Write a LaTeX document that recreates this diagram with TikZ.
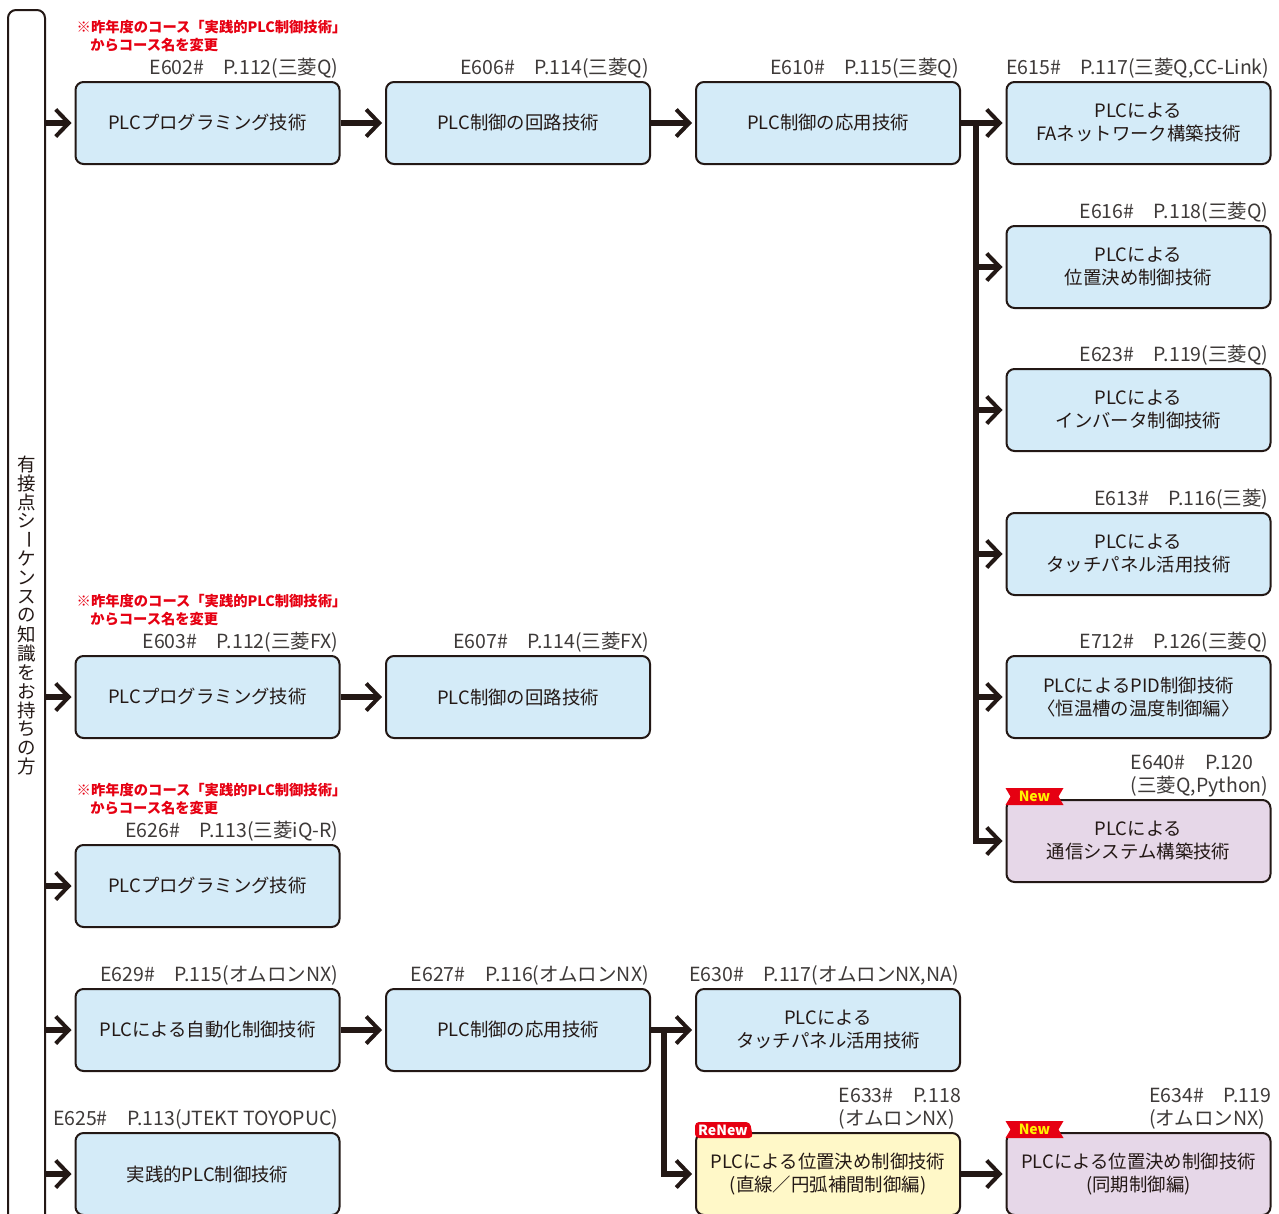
\documentclass[tikz,border=0pt]{standalone}
\usepackage{fontspec}
\setmainfont{Noto Sans CJK JP}
\usetikzlibrary{arrows.meta}

\definecolor{ink}{HTML}{231815}
\definecolor{grayink}{HTML}{3E3A39}
\definecolor{boxblue}{HTML}{D4EBF8}
\definecolor{boxpurple}{HTML}{E6D7E8}
\definecolor{boxyellow}{HTML}{FFF8C8}
\definecolor{notered}{HTML}{E60012}
\definecolor{tagyellow}{HTML}{FFF100}

\begin{document}
\begin{tikzpicture}[x=1pt, y=-1pt,
	course/.style={draw=ink, line width=2pt, rounded corners=8pt, fill=boxblue, minimum width=264pt, minimum height=82pt, align=center, inner sep=0pt, text=ink, font=\fontsize{18.4}{23}\selectfont},
	newcourse/.style={course, fill=boxpurple},
	renewcourse/.style={course, fill=boxyellow},
	coursecode/.style={anchor=south east, inner sep=0pt, align=left, text=grayink, font=\fontsize{19.5}{23}\selectfont},
	remark/.style={anchor=north west, inner sep=0pt, align=left, text=notered, font=\bfseries\fontsize{14.3}{18}\selectfont},
	arr/.style={draw=ink, line width=6pt, shorten >=3pt, -{Straight Barb[length=13pt, width=27pt, line width=4pt]}},
	ribbon/.style={fill=notered},
	tagtext/.style={inner sep=0pt, font=\bfseries\fontsize{14}{14}\selectfont}]
	\useasboundingbox (0,0) rectangle (1279,1213);
	% left bar
	\node[draw=ink, line width=2pt, rounded corners=8pt, minimum width=37pt, minimum height=1220pt, inner sep=0pt] (target) at (26.5,620) {};
	\foreach \c/\r [count=\i] in {有/0,接/0,点/0,シ/0,ー/-90,ケ/0,ン/0,ス/0,の/0,知/0,識/0,を/0,お/0,持/0,ち/0,の/0,方/0}{
	  \node[inner sep=0pt, text=ink, rotate=\r, font=\fontsize{18.5}{18}\selectfont] (t\i) at (26.5, 445.5+\i*18.9) {\c};
	}
	% Mitsubishi Q
	\node[course] (e602) at (207.5,123) {PLCプログラミング技術};
	\node[course] (e606) at (518,123) {PLC制御の回路技術};
	\node[course] (e610) at (828,123) {PLC制御の応用技術};
	\node[course] (e615) at (1138.5,123) {PLCによる\\FAネットワーク構築技術};
	\node[course] (e616) at (1138.5,267) {PLCによる\\位置決め制御技術};
	\node[course] (e623) at (1138.5,410) {PLCによる\\インバータ制御技術};
	\node[course] (e613) at (1138.5,554) {PLCによる\\タッチパネル活用技術};
	\node[course] (e712) at (1138.5,697) {PLCによるPID制御技術\\〈恒温槽の温度制御編〉};
	\node[newcourse] (e640) at (1138.5,841) {PLCによる\\通信システム構築技術};
	% Mitsubishi FX, iQ-R
	\node[course] (e603) at (207.5,697) {PLCプログラミング技術};
	\node[course] (e607) at (518,697) {PLC制御の回路技術};
	\node[course] (e626) at (207.5,886) {PLCプログラミング技術};
	% Omron, JTEKT
	\node[course] (e629) at (207.5,1030) {PLCによる自動化制御技術};
	\node[course] (e627) at (518,1030) {PLC制御の応用技術};
	\node[course] (e630) at (828,1030) {PLCによる\\タッチパネル活用技術};
	\node[course] (e625) at (207.5,1174) {実践的PLC制御技術};
	\node[renewcourse] (e633) at (828,1174) {PLCによる位置決め制御技術\\(直線／円弧補間制御編)};
	\node[newcourse] (e634) at (1138.5,1174) {PLCによる位置決め制御技術\\(同期制御編)};
	% course codes
	\node[coursecode] (e602code) at ([shift={(-2,-2)}]e602.north east) {E602\#　P.112(三菱Q)};
	\node[coursecode] (e606code) at ([shift={(-2,-2)}]e606.north east) {E606\#　P.114(三菱Q)};
	\node[coursecode] (e610code) at ([shift={(-2,-2)}]e610.north east) {E610\#　P.115(三菱Q)};
	\node[coursecode] (e615code) at ([shift={(-2,-2)}]e615.north east) {E615\#　P.117(三菱Q,CC-Link)};
	\node[coursecode] (e616code) at ([shift={(-3,-2)}]e616.north east) {E616\#　P.118(三菱Q)};
	\node[coursecode] (e623code) at ([shift={(-3,-2)}]e623.north east) {E623\#　P.119(三菱Q)};
	\node[coursecode] (e613code) at ([shift={(-3,-2)}]e613.north east) {E613\#　P.116(三菱)};
	\node[coursecode] (e712code) at ([shift={(-3,-2)}]e712.north east) {E712\#　P.126(三菱Q)};
	\node[coursecode] (e640code) at ([shift={(-3,-2)}]e640.north east) {E640\#　P.120\\(三菱Q,Python)};
	\node[coursecode] (e603code) at ([shift={(-2,-2)}]e603.north east) {E603\#　P.112(三菱FX)};
	\node[coursecode] (e607code) at ([shift={(-2,-2)}]e607.north east) {E607\#　P.114(三菱FX)};
	\node[coursecode] (e626code) at ([shift={(-2,-2)}]e626.north east) {E626\#　P.113(三菱iQ-R)};
	\node[coursecode] (e629code) at ([shift={(-2,-2)}]e629.north east) {E629\#　P.115(オムロンNX)};
	\node[coursecode] (e627code) at ([shift={(-2,-2)}]e627.north east) {E627\#　P.116(オムロンNX)};
	\node[coursecode] (e630code) at ([shift={(-2,-2)}]e630.north east) {E630\#　P.117(オムロンNX,NA)};
	\node[coursecode] (e625code) at ([shift={(-2,-2)}]e625.north east) {E625\#　P.113(JTEKT TOYOPUC)};
	\node[coursecode] (e633code) at ([shift={(0,-2)}]e633.north east) {E633\#　P.118\\(オムロンNX)};
	\node[coursecode] (e634code) at ([shift={(0,-2)}]e634.north east) {E634\#　P.119\\(オムロンNX)};
	% renamed courses
	\foreach \b in {e602,e603,e626}{
	  \node[remark] (\b note) at ([shift={(2,-61)}]\b.north west) {※昨年度のコース「実践的PLC制御技術」\\\hspace*{0.95em}からコース名を変更};
	}
	% arrows
	\foreach \b in {e602,e603,e626,e629,e625}{
	  \draw[arr] (target.east |- \b.west) -- (\b.west);
	}
	\draw[arr] (e602.east) -- (e606.west);
	\draw[arr] (e606.east) -- (e610.west);
	\draw[arr] (e603.east) -- (e607.west);
	\draw[arr] (e629.east) -- (e627.west);
	\draw[arr] (e633.east) -- (e634.west);
	\coordinate (fork) at ([xshift=15]e610.east);
	\draw[arr] (e610.east) -- (e615.west);
	\draw[arr] (fork) |- (e640.west);
	\foreach \b in {e616,e623,e613,e712}{
	  \draw[arr] (fork |- \b.west) -- (\b.west);
	}
	\coordinate (fork2) at ([xshift=13]e627.east);
	\draw[arr] (e627.east) -- (e630.west);
	\draw[arr] (fork2) |- (e633.west);
	% tags
	\fill[ribbon, shift={(e640.north west)}] (0,-11) -- (58,-11) -- (53,-2.5) -- (58,6) -- (0,6) -- (5,-2.5) -- cycle;
	\node[tagtext, text=tagyellow] (e640tag) at ([shift={(29,-2.5)}]e640.north west) {New};
	\fill[ribbon, shift={(e634.north west)}] (0,-11) -- (58,-11) -- (53,-2.5) -- (58,6) -- (0,6) -- (5,-2.5) -- cycle;
	\node[tagtext, text=tagyellow] (e634tag) at ([shift={(29,-2.5)}]e634.north west) {New};
	\fill[ribbon, rounded corners=4pt, shift={(e633.north west)}] (0,6) -- (0,-10) -- (55,-10) -- (58,6) -- cycle;
	\node[tagtext, text=white] (e633tag) at ([shift={(28,-2)}]e633.north west) {ReNew};
\end{tikzpicture}
\end{document}
